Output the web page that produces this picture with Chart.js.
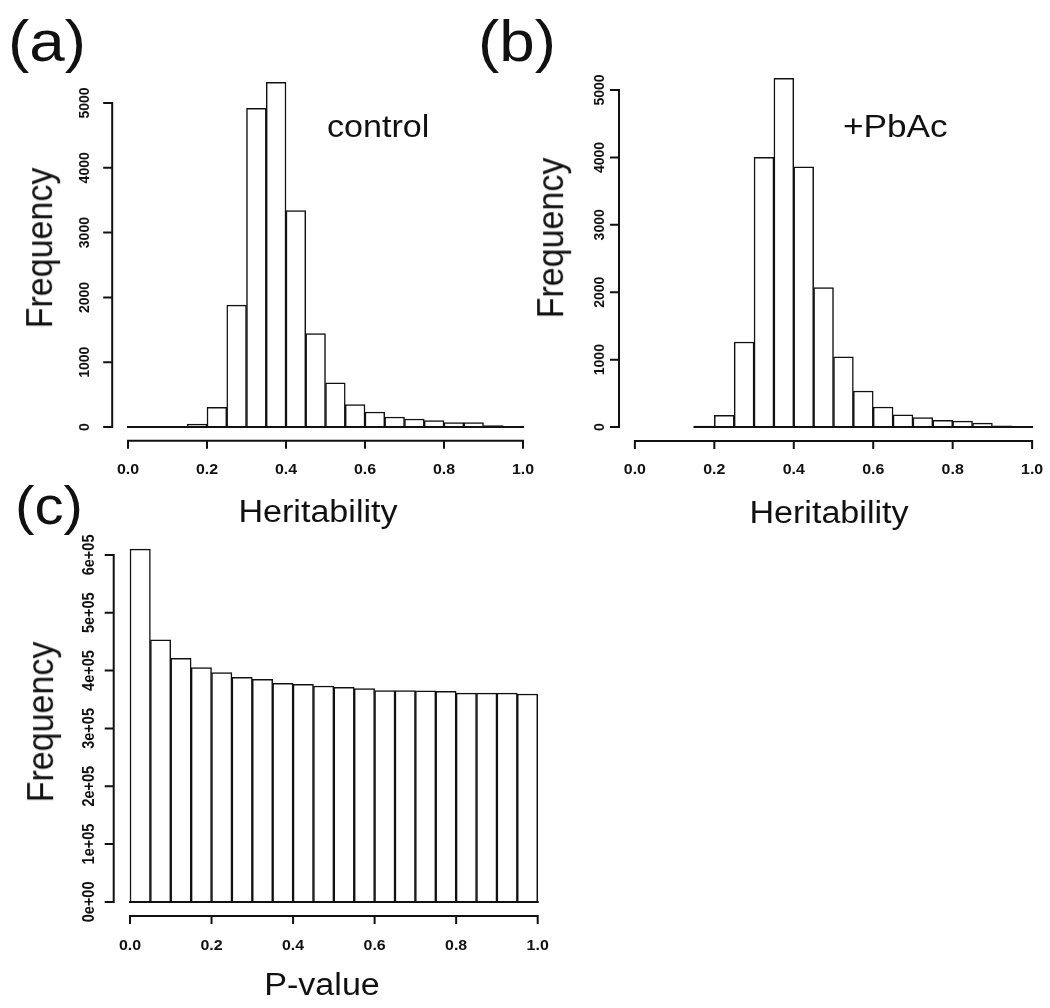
<!DOCTYPE html>
<html>
<head>
<meta charset="utf-8">
<script src="https://cdn.jsdelivr.net/npm/chart.js@4.4.0/dist/chart.umd.min.js"></script>
<style>
  html, body { margin: 0; padding: 0; background: #fff; }
  #wrap { position: relative; width: 1050px; height: 1008px; overflow: hidden; background: #fff; }
  canvas { position: absolute; left: 0; top: 0; }
  .t { position: absolute; font-family: "Liberation Sans", Arial, Helvetica, sans-serif; line-height: 1; white-space: nowrap; color: #111; transform-origin: 0 0; }
</style>
</head>
<body>
<div id="wrap">
  <canvas id="ca" width="1050" height="1008"></canvas>
  <canvas id="cb" width="1050" height="1008"></canvas>
  <canvas id="cc" width="1050" height="1008"></canvas>
</div>
<script>
// ---------------- data ----------------
const binWidth = 0.05;
// panel (a) control: bin left edges and counts
const binsA   = [0.00,0.05,0.10,0.15,0.20,0.25,0.30,0.35,0.40,0.45,0.50,0.55,0.60,0.65,0.70,0.75,0.80,0.85,0.90,0.95];
const countsA = [0,   0,   12,  45,  305, 1880,4920,5320,3340,1440,680, 345, 232, 155, 124, 98,  67,  67,  22,  0];
// panel (b) +PbAc
const binsB   = [0.15,0.20,0.25,0.30,0.35,0.40,0.45,0.50,0.55,0.60,0.65,0.70,0.75,0.80,0.85,0.90,0.95];
const countsB = [15,  173, 1262,4000,5173,3861,2069,1040,535, 297, 183, 139, 99,  89,  59,  18,  0];
// panel (c) P-value
const binsC   = [0.00,0.05,0.10,0.15,0.20,0.25,0.30,0.35,0.40,0.45,0.50,0.55,0.60,0.65,0.70,0.75,0.80,0.85,0.90,0.95];
const countsC = [610000,453000,421000,405000,396500,388400,385000,378000,376000,373300,371000,368700,365200,365200,365000,364000,361000,361000,361000,359400];

// tick values and labels
const xTicks = [0, 0.2, 0.4, 0.6, 0.8, 1.0];
const xTickLabels = ["0.0", "0.2", "0.4", "0.6", "0.8", "1.0"];
const yTicksAB = [0, 1000, 2000, 3000, 4000, 5000];
const yTickLabelsAB = ["0", "1000", "2000", "3000", "4000", "5000"];
const yTicksC = [0, 100000, 200000, 300000, 400000, 500000, 600000];
const yTickLabelsC = ["0e+00", "1e+05", "2e+05", "3e+05", "4e+05", "5e+05", "6e+05"];

// ---------------- drawing ----------------
const FONT = '"Liberation Sans", Arial, Helvetica, sans-serif';
const SX = 1.1; // horizontal stretch of the original figure

const rAxes = {
  id: 'rAxes',
  afterDatasetsDraw(chart, args, o) {
    const ctx = chart.ctx, xs = chart.scales.x, ys = chart.scales.y, ca = chart.chartArea;
    ctx.save();
    ctx.strokeStyle = '#111';
    ctx.fillStyle = '#111';
    ctx.lineWidth = 2;
    ctx.lineCap = 'square';
    // baseline of the histogram across all bins
    const y0 = ys.getPixelForValue(0);
    ctx.beginPath();
    ctx.moveTo(xs.getPixelForValue(o.bins[0]), y0);
    ctx.lineTo(xs.getPixelForValue(o.bins[o.bins.length - 1] + binWidth), y0);
    ctx.stroke();
    // x axis
    const ax = ca.bottom;
    ctx.beginPath();
    ctx.moveTo(xs.getPixelForValue(o.xTicks[0]), ax);
    ctx.lineTo(xs.getPixelForValue(o.xTicks[o.xTicks.length - 1]), ax);
    o.xTicks.forEach(v => {
      const px = xs.getPixelForValue(v);
      ctx.moveTo(px, ax); ctx.lineTo(px, ax + 7);
    });
    ctx.stroke();
    ctx.font = 'bold ' + o.xFont + 'px ' + FONT;
    ctx.textAlign = 'center';
    ctx.textBaseline = 'middle';
    o.xTicks.forEach((v, i) => {
      const px = xs.getPixelForValue(v);
      ctx.save();
      ctx.translate(px, ax + o.xLabOff);
      ctx.scale(SX, 1);
      ctx.fillText(o.xLabels[i], 0, 0);
      ctx.restore();
    });
    // y axis
    const ay = ca.left;
    ctx.beginPath();
    ctx.moveTo(ay, ys.getPixelForValue(o.yTicks[0]));
    ctx.lineTo(ay, ys.getPixelForValue(o.yTicks[o.yTicks.length - 1]));
    o.yTicks.forEach(v => {
      const py = ys.getPixelForValue(v);
      ctx.moveTo(ay, py); ctx.lineTo(ay - 8, py);
    });
    ctx.stroke();
    ctx.font = 'bold ' + o.yFont + 'px ' + FONT;
    o.yTicks.forEach((v, i) => {
      const py = ys.getPixelForValue(v);
      ctx.save();
      ctx.translate(ay - o.yLabOff, py);
      ctx.scale(SX, 1);
      ctx.rotate(-Math.PI / 2);
      ctx.fillText(o.yLabels[i], 0, 0);
      ctx.restore();
    });
    ctx.restore();
  }
};

function makeHist(id, bins, counts, area, ax) {
  const maxC = Math.max(...counts);
  return new Chart(document.getElementById(id), {
    type: 'bar',
    data: {
      datasets: [{
        data: bins.map((b, i) => ({ x: b + binWidth / 2, y: counts[i] })),
        backgroundColor: '#ffffff',
        borderColor: '#111111',
        borderWidth: 1.5,
        borderSkipped: 'start',
        barPercentage: 1.0,
        categoryPercentage: 1.0
      }]
    },
    options: {
      responsive: false,
      animation: false,
      events: [],
      layout: { padding: { left: area.l, top: area.t, right: 1050 - area.r, bottom: 1008 - area.b } },
      scales: {
        x: { type: 'linear', display: false, offset: false, min: -0.04, max: 1.04 },
        y: { type: 'linear', display: false, min: -0.04 * maxC, max: 1.04 * maxC }
      },
      plugins: {
        legend: { display: false },
        tooltip: { enabled: false },
        rAxes: Object.assign({ bins: bins }, ax)
      }
    },
    plugins: [rAxes]
  });
}

makeHist('ca', binsA, countsA, { l: 112.2, r: 538.8, t: 68.5, b: 440.8 },
  { xTicks: xTicks, xLabels: xTickLabels, yTicks: yTicksAB, yLabels: yTickLabelsAB, xFont: 14.5, yFont: 14, xLabOff: 29, yLabOff: 27 });
makeHist('cb', binsB, countsB, { l: 619, r: 1048, t: 64.4, b: 441 },
  { xTicks: xTicks, xLabels: xTickLabels, yTicks: yTicksAB, yLabels: yTickLabelsAB, xFont: 14.5, yFont: 14, xLabOff: 29, yLabOff: 19 });
makeHist('cc', binsC, countsC, { l: 113.7, r: 554, t: 535, b: 916 },
  { xTicks: xTicks, xLabels: xTickLabels, yTicks: yTicksC, yLabels: yTickLabelsC, xFont: 14.5, yFont: 14.5, xLabOff: 30, yLabOff: 24 });

// ---------------- text labels ----------------
const wrap = document.getElementById('wrap');
const ASC = 0.8465; // baseline offset for line-height 1
function addText(str, size, x, y, mode) {
  const d = document.createElement('div');
  d.className = 't';
  d.textContent = str;
  d.style.fontSize = size + 'px';
  d.style.left = x + 'px';
  d.style.top = y + 'px';
  if (mode === 'center') {
    d.style.transform = 'scaleX(' + SX + ') translate(-50%, -' + ASC + 'em)';
  } else if (mode === 'left') {
    d.style.transform = 'scaleX(' + SX + ') translate(0, -' + ASC + 'em)';
  } else if (mode === 'vert') {
    d.style.transform = 'scaleX(' + SX + ') rotate(-90deg) translate(-50%, -' + ASC + 'em)';
  }
  wrap.appendChild(d);
}
addText('(a)', 58, 8, 61, 'left');
addText('(b)', 58, 478, 61, 'left');
addText('(c)', 53, 15, 524, 'left');
addText('control', 31, 327, 137, 'left');
addText('+PbAc', 32, 843, 137, 'left');
addText('Heritability', 31, 318, 522, 'center');
addText('Heritability', 31, 829, 523, 'center');
addText('P-value', 31, 322, 995, 'center');
addText('Frequency', 34, 52, 248, 'vert');
addText('Frequency', 34, 563, 238, 'vert');
addText('Frequency', 34, 53, 722, 'vert');
</script>
</body>
</html>
